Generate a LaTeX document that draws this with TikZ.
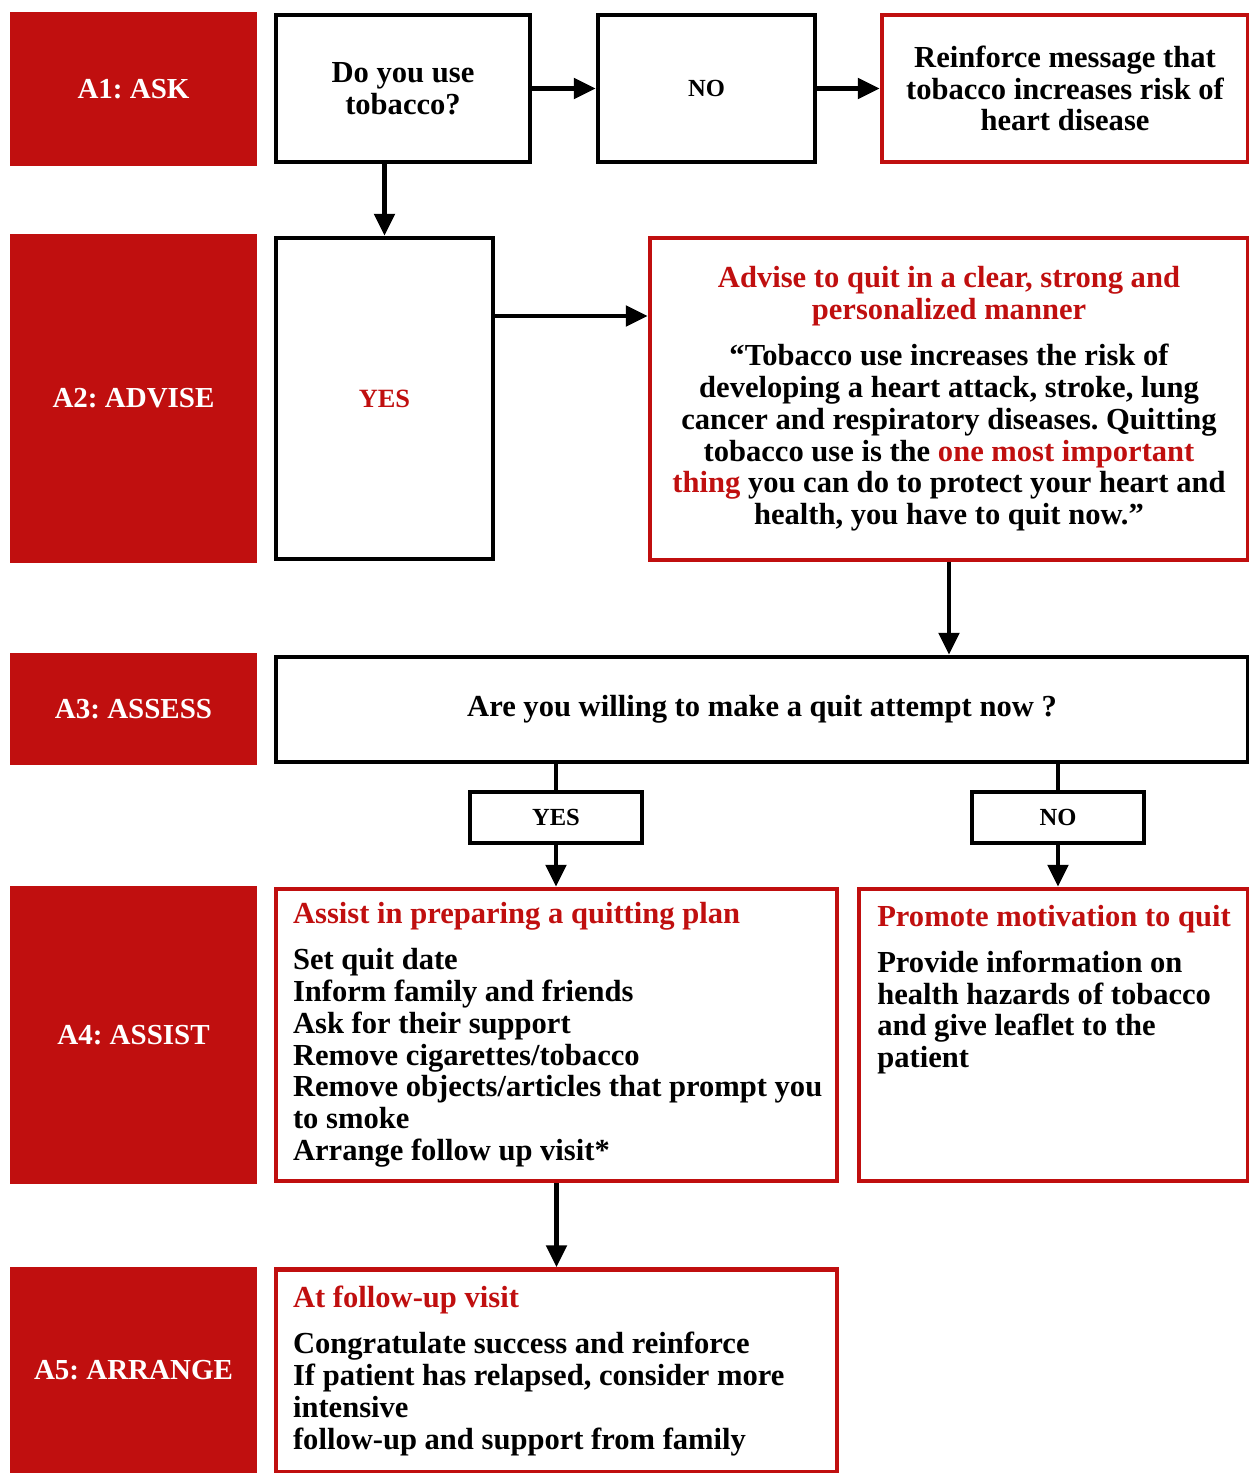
\documentclass[tikz,border=0pt]{standalone}
\usepackage{fontspec}
\setmainfont{Liberation Serif}
\usetikzlibrary{arrows.meta,positioning}
\definecolor{ared}{RGB}{192,15,15}
\tikzset{
  stage/.style={fill=ared, text=white, inner sep=0pt, minimum width=4.94cm,
    font=\fontsize{16.5}{18}\selectfont\bfseries},
  blackbox/.style={draw=black, line width=2.6pt, inner sep=0pt,
    font=\fontsize{17.4}{18.1}\selectfont\bfseries, align=center},
  redbox/.style={blackbox, draw=ared},
  listbox/.style={redbox, text width=10.54cm, inner xsep=0.34cm, align=flush left},
  small/.style={font=\fontsize{14}{16}\selectfont\bfseries},
  arr/.style={line width=2.6pt, -{Triangle[length=12.5pt,width=11.5pt]}},
  plain/.style={line width=2.6pt},
}
\newcommand{\hd}[1]{\textcolor{ared}{#1}}
\begin{document}
\frenchspacing
\begin{tikzpicture}[x=0.02cm, y=-0.02cm]
    \useasboundingbox (0,0) rectangle (1248,1473);
    \node[stage, minimum height=3.08cm] (A1) at (133.5, 89) {A1: ASK};
    \node[stage, minimum height=6.58cm] (A2) at (133.5, 398.5) {A2: ADVISE};
    \node[stage, minimum height=2.24cm] (A3) at (133.5, 709) {A3: ASSESS};
    \node[stage, minimum height=5.96cm] (A4) at (133.5, 1035) {A4: ASSIST};
    \node[stage, minimum height=4.12cm] (A5) at (133.5, 1370) {A5: ARRANGE};

    \node[blackbox, minimum width=5.08cm, minimum height=2.94cm] (Q1) at (403, 88.5) {Do you use\\tobacco?};
    \node[blackbox, small, minimum width=4.34cm, minimum height=2.94cm] (N1) at (706.5, 88.5) {NO};
    \node[redbox, minimum width=7.32cm, minimum height=2.94cm] (RM) at (1065, 88.5) {Reinforce message that\\tobacco increases risk of\\heart disease};
    \node[blackbox, font=\fontsize{15}{16}\selectfont\bfseries, minimum width=4.34cm, minimum height=6.42cm] (Y1) at (384.5, 398.5) {\hd{YES}};
    \node[redbox, minimum width=11.96cm, minimum height=6.44cm] (AD) at (949, 399) {\hd{Advise to quit in a clear, strong and}\\\hd{personalized manner}\\[8pt]
      ``Tobacco use increases the risk of\\developing a heart attack, stroke, lung\\cancer and respiratory diseases. Quitting\\tobacco use is the \hd{one most important}\\\hd{thing} you can do to protect your heart and\\health, you have to quit now.''};
    \node[blackbox, minimum width=19.44cm, minimum height=2.10cm] (Q2) at (762, 709.5) {Are you willing to make a quit attempt now ?};
    \node[blackbox, small, minimum width=3.44cm, minimum height=1.02cm] (Y2) at (556, 817.5) {YES};
    \node[blackbox, small, minimum width=3.44cm, minimum height=1.02cm] (N2) at (1058, 817.5) {NO};
    \node[listbox, minimum height=5.84cm] (AS) at (556.5, 1035) {\hd{Assist in preparing a quitting plan}\\[8pt]
      Set quit date\\Inform family and friends\\Ask for their support\\Remove cigarettes/tobacco\\\mbox{Remove objects/articles that prompt you}\\to smoke\\Arrange follow up visit*};
    \node[redbox, minimum width=7.78cm, minimum height=5.84cm] (PM) at (1053.5, 1035) {};
    \node[blackbox, draw=none, align=left, anchor=north west] (PMtext) at (875, 903) {\hd{Promote motivation to quit}\\[8pt]
      Provide information on\\health hazards of tobacco\\and give leaflet to the\\patient};
    \node[listbox, minimum height=4.06cm] (AR) at (556.5, 1371) {\hd{At follow-up visit}\\[8pt]
      Congratulate success and reinforce\\\mbox{If patient has relapsed, consider more}\\intensive\\follow-up and support from family};

    \draw[arr] (Q1.south -| Y1.north) -- (Y1.north);
    \draw[arr] (Q1.east) -- (N1.west);
    \draw[arr] (N1.east) -- (RM.west);
    \draw[arr] ([yshift=1.65cm]Y1.east) -- ([yshift=1.65cm]Y1.east -| AD.west);
    \draw[arr] (AD.south) -- (AD.south |- Q2.north);
    \draw[plain] (Y2.north |- Q2.south) -- (Y2.north);
    \draw[plain] (N2.north |- Q2.south) -- (N2.north);
    \draw[arr] (Y2.south) -- (Y2.south |- AS.north);
    \draw[arr] (N2.south) -- (N2.south |- PM.north);
    \draw[arr] (AS.south) -- (AR.north);
  \end{tikzpicture}
\end{document}
